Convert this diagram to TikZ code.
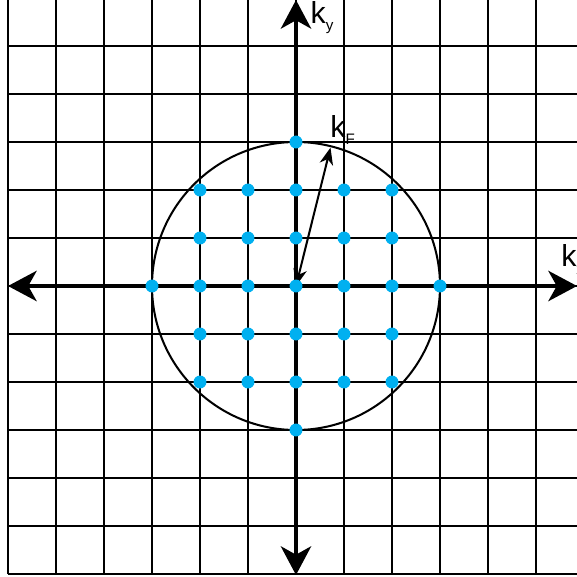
\documentclass[tikz,border=0pt]{standalone}
\usepackage{fontspec}
\setmainfont{Liberation Sans}
\usetikzlibrary{arrows.meta}
\definecolor{dotblue}{RGB}{0,176,240}
\newcommand{\klabel}[1]{\fontsize{18}{18}\selectfont k\raisebox{-4.5pt}{\fontsize{9}{9}\selectfont #1}}
\begin{document}
\begin{tikzpicture}[x=1cm,y=1cm,
  gridline/.style={black, line width=0.6pt},
  axisline/.style={line width=2pt, {Stealth[length=17pt,width=18pt,inset=5pt]}-{Stealth[length=17pt,width=18pt,inset=5pt]}},
  kfline/.style={line width=1.2pt, {Stealth[length=10pt,width=8pt,inset=3pt]}-{Stealth[length=10pt,width=8pt,inset=3pt]}},
  fermi/.style={line width=1.2pt},
  kdot/.style={circle, fill=dotblue, inner sep=0pt, minimum size=0.27cm},
  klab/.style={inner sep=0pt, anchor=base west}]
\useasboundingbox (-6.1667,-6.0625) rectangle (5.8542,5.9583);
\fill[white] (-6.1667,-6.0625) rectangle (5.8542,5.9583);
% grid
\foreach \x in {-6,...,5} \draw[gridline] (\x,-6) -- (\x,5.9583);
\foreach \y in {-6,...,5} \draw[gridline] (-6,\y) -- (5.8542,\y);
% coordinates
\coordinate (o) at (0,0);
\coordinate (xl) at (-6,0);
\coordinate (xr) at (5.8542,0);
\coordinate (yt) at (0,5.9583);
\coordinate (yb) at (0,-6.02);
\coordinate (kf) at (76:2.97);
% axes
\draw[axisline] (xl) -- (xr);
\draw[axisline] (yb) -- (yt);
% Fermi circle
\draw[fermi] (o) circle (3);
% k_F arrow
\draw[kfline] (o) -- (kf);
% dots
\foreach \i in {-2,...,2}
  \foreach \j in {-2,...,2}
    \node[kdot] (d\i\j) at (\i,\j) {};
\node[kdot] (dt) at (0,3) {};
\node[kdot] (db) at (0,-3) {};
\node[kdot] (dl) at (-3,0) {};
\node[kdot] (dr) at (3,0) {};
% labels
\node[klab] (ky) at (0.30,5.479) {\klabel{y}};
\node[klab] (kF) at (0.71,3.104) {\klabel{F}};
\node[klab] (kx) at (5.52,0.406) {\klabel{x}};
\end{tikzpicture}
\end{document}
